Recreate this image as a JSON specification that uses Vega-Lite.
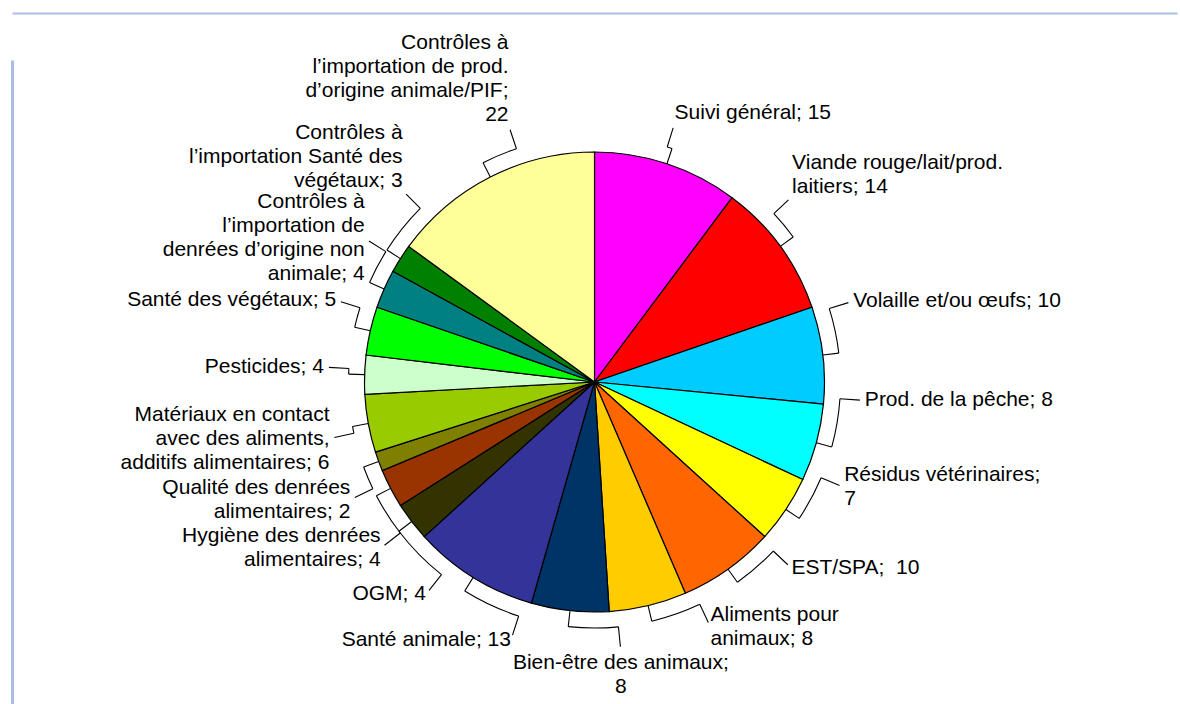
{
  "$schema": "https://vega.github.io/schema/vega-lite/v6.json",
  "width": 1180,
  "height": 704,
  "autosize": {"type": "fit", "contains": "padding"},
  "padding": {"left": 12, "top": 13, "right": 0, "bottom": 0},
  "background": "white",
  "config": {"view": {"stroke": null}},
  "data": {
    "values": [
      {"k": 1, "label": "Suivi général; 15", "n": 15},
      {"k": 2, "label": "Viande rouge/lait/prod.\nlaitiers; 14", "n": 14},
      {"k": 3, "label": "Volaille et/ou œufs; 10", "n": 10},
      {"k": 4, "label": "Prod. de la pêche; 8", "n": 8},
      {"k": 5, "label": "Résidus vétérinaires;\n7", "n": 7},
      {"k": 6, "label": "EST/SPA;\u00a0 10", "n": 10},
      {"k": 7, "label": "Aliments pour\nanimaux; 8", "n": 8},
      {"k": 8, "label": "Bien-être des animaux;\n8", "n": 8},
      {"k": 9, "label": "Santé animale; 13", "n": 13},
      {"k": 10, "label": "OGM; 4", "n": 4},
      {"k": 11, "label": "Hygiène des denrées\nalimentaires; 4", "n": 4},
      {"k": 12, "label": "Qualité des denrées\nalimentaires; 2", "n": 2},
      {"k": 13, "label": "Matériaux en contact\navec des aliments,\nadditifs alimentaires; 6", "n": 6},
      {"k": 14, "label": "Pesticides; 4", "n": 4},
      {"k": 15, "label": "Santé des végétaux; 5", "n": 5},
      {"k": 16, "label": "Contrôles à\nl’importation de\ndenrées d’origine non\nanimale; 4", "n": 4},
      {"k": 17, "label": "Contrôles à\nl’importation Santé des\nvégétaux; 3", "n": 3},
      {"k": 18, "label": "Contrôles à\nl’importation de prod.\nd’origine animale/PIF;\n22", "n": 22}
    ]
  },
  "transform": [
    {"stack": "n", "groupby": [], "sort": [{"field": "k", "order": "ascending"}], "as": ["s0", "s1"]},
    {"joinaggregate": [{"op": "sum", "field": "n", "as": "tot"}, {"op": "count", "as": "cnt"}]}
  ],
  "layer": [
    {
      "mark": {"type": "point", "opacity": 0},
      "encoding": {
        "x": {"field": "n", "type": "quantitative", "axis": {"orient": "top", "offset": 47, "domainColor": "#A9BDE6", "domainWidth": 2, "ticks": false, "labels": false, "grid": false, "title": null, "minExtent": 0}},
        "y": {"field": "n", "type": "quantitative", "axis": {"orient": "left", "domainColor": "#A9BDE6", "domainWidth": 3, "ticks": false, "labels": false, "grid": false, "title": null, "minExtent": 0}}
      }
    },
    {
      "mark": {"type": "arc", "radius": 230, "stroke": "black", "strokeWidth": 1.2},
      "encoding": {
        "theta": {"field": "s0", "type": "quantitative", "scale": {"domain": [0, 147], "nice": false}},
        "theta2": {"field": "s1"},
        "color": {
          "field": "k", "type": "ordinal", "legend": null,
          "scale": {"range": ["#FF00FF", "#FF0000", "#00CCFF", "#00FFFF", "#FFFF00", "#FF6600", "#FFCC00", "#003366", "#333399", "#333300", "#993300", "#808000", "#99CC00", "#CCFFCC", "#00FF00", "#008080", "#008000", "#FFFF99"]}
        }
      }
    },
    {
      "mark": {
        "type": "arc", "filled": false, "stroke": "black", "strokeWidth": 1.1,
        "theta": {"expr": "PI*(datum.s0+datum.s1)/datum.tot"},
        "theta2": {"expr": "PI*(datum.s0+datum.s1)/datum.tot"},
        "radius": 246, "radius2": 230
      },
      "encoding": {}
    },
    {
      "mark": {
        "type": "arc", "filled": false, "stroke": "black", "strokeWidth": 1.1,
        "theta": {"expr": "PI*(datum.s0+datum.s1)/datum.tot"},
        "theta2": {"expr": "2*PI*(datum.s0+5*(datum.k-1)+(datum.n+5)/2)/(datum.tot+5*datum.cnt)+0.035"},
        "radius": 246, "radius2": 246
      },
      "encoding": {}
    },
    {
      "mark": {
        "type": "arc", "filled": false, "stroke": "black", "strokeWidth": 1.1,
        "theta": {"expr": "2*PI*(datum.s0+5*(datum.k-1)+(datum.n+5)/2)/(datum.tot+5*datum.cnt)+0.035"},
        "theta2": {"expr": "2*PI*(datum.s0+5*(datum.k-1)+(datum.n+5)/2)/(datum.tot+5*datum.cnt)+0.035"},
        "radius": 266, "radius2": 246
      },
      "encoding": {}
    },
    {
      "mark": {
        "type": "text",
        "font": "Liberation Sans",
        "fontSize": 21,
        "lineHeight": 24,
        "lineBreak": "\n",
        "fill": "black",
        "radius": 271,
        "theta": {"expr": "2*PI*(datum.s0+5*(datum.k-1)+(datum.n+5)/2)/(datum.tot+5*datum.cnt)+0.035"},
        "align": {"expr": "sin(2*PI*(datum.s0+5*(datum.k-1)+(datum.n+5)/2)/(datum.tot+5*datum.cnt)+0.035) > 0.25 ? 'left' : (sin(2*PI*(datum.s0+5*(datum.k-1)+(datum.n+5)/2)/(datum.tot+5*datum.cnt)+0.035) < -0.25 ? 'right' : 'center')"},
        "baseline": {"expr": "cos(2*PI*(datum.s0+5*(datum.k-1)+(datum.n+5)/2)/(datum.tot+5*datum.cnt)+0.035) > 0.65 ? 'bottom' : (cos(2*PI*(datum.s0+5*(datum.k-1)+(datum.n+5)/2)/(datum.tot+5*datum.cnt)+0.035) < -0.97 ? 'top' : 'middle')"},
        "dy": {"expr": "(cos(2*PI*(datum.s0+5*(datum.k-1)+(datum.n+5)/2)/(datum.tot+5*datum.cnt)+0.035) > 0.65 ? -1 : (cos(2*PI*(datum.s0+5*(datum.k-1)+(datum.n+5)/2)/(datum.tot+5*datum.cnt)+0.035) < -0.97 ? 0 : -0.5)) * 24 * (length(split(datum.label, '\\n')) - 1)"}
      },
      "encoding": {"text": {"field": "label"}}
    }
  ]
}
